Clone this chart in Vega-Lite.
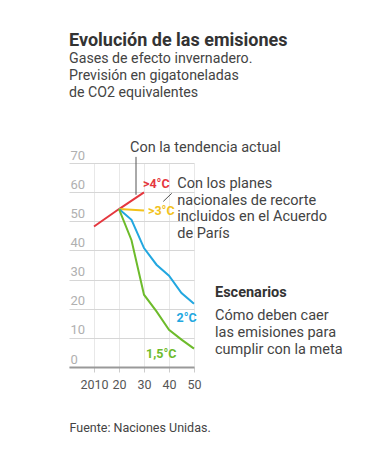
{
  "$schema": "https://vega.github.io/schema/vega-lite/v6.json",
  "width": 125,
  "height": 204,
  "autosize": {"type": "none"},
  "padding": {"left": 69, "top": 163, "right": 188, "bottom": 84},
  "background": "white",
  "title": {
    "text": "Evolución de las emisiones",
    "subtitle": ["Gases de efecto invernadero.", "Previsión en gigatoneladas", "de CO2 equivalentes"],
    "anchor": "start",
    "frame": "group",
    "font": "Roboto",
    "fontSize": 18,
    "fontWeight": "bold",
    "color": "#333333",
    "subtitleFont": "Roboto",
    "subtitleFontSize": 14.2,
    "subtitleColor": "#444444",
    "subtitleLineHeight": 17,
    "subtitlePadding": 2,
    "offset": 40
  },
  "datasets": {
    "lines": [
      {"year": 2010, "value": 48.2, "series": ">4°C"},
      {"year": 2020, "value": 54.2, "series": ">4°C"},
      {"year": 2030, "value": 59.9, "series": ">4°C"},
      {"year": 2020, "value": 54.2, "series": ">3°C"},
      {"year": 2030, "value": 53.7, "series": ">3°C"},
      {"year": 2020, "value": 54.2, "series": "2°C"},
      {"year": 2025, "value": 50.5, "series": "2°C"},
      {"year": 2030, "value": 40.8, "series": "2°C"},
      {"year": 2035, "value": 35.1, "series": "2°C"},
      {"year": 2040, "value": 31.3, "series": "2°C"},
      {"year": 2045, "value": 25.4, "series": "2°C"},
      {"year": 2050, "value": 21.7, "series": "2°C"},
      {"year": 2020, "value": 54.2, "series": "1,5°C"},
      {"year": 2025, "value": 43.5, "series": "1,5°C"},
      {"year": 2030, "value": 24.8, "series": "1,5°C"},
      {"year": 2035, "value": 19.1, "series": "1,5°C"},
      {"year": 2040, "value": 12.8, "series": "1,5°C"},
      {"year": 2045, "value": 9.4, "series": "1,5°C"},
      {"year": 2050, "value": 6.3, "series": "1,5°C"}
    ],
    "seriesLabels": [
      {"year": 2029.6, "value": 62.7, "series": ">4°C"},
      {"year": 2031.6, "value": 53.7, "series": ">3°C"},
      {"year": 2043.0, "value": 16.8, "series": "2°C"},
      {"year": 2030.8, "value": 4.6, "series": "1,5°C"}
    ],
    "notes": [
      {"year": 2024.4, "value": 75.2, "text": "Con la tendencia actual"},
      {"year": 2043.3, "value": 62.7, "text": "Con los planes"},
      {"year": 2043.3, "value": 57.0, "text": "nacionales de recorte"},
      {"year": 2043.3, "value": 51.3, "text": "incluidos en el Acuerdo"},
      {"year": 2043.3, "value": 45.6, "text": "de París"},
      {"year": 2058.4, "value": 17.4, "text": "Cómo deben caer"},
      {"year": 2058.4, "value": 11.7, "text": "las emisiones para"},
      {"year": 2058.4, "value": 6.0, "text": "cumplir con la meta"}
    ],
    "heads": [
      {"year": 2058.4, "value": 25.4, "text": "Escenarios"}
    ],
    "leaders": [
      {"year": 2026.8, "value": 72.1, "year2": 2026.8, "value2": 59.1},
      {"year": 2037.7, "value": 56.8, "year2": 2041.1, "value2": 59.6}
    ]
  },
  "encoding": {
    "x": {
      "field": "year", "type": "quantitative",
      "scale": {"domain": [2000, 2050], "nice": false, "zero": false},
      "axis": {
        "values": [2010, 2020, 2030, 2040, 2050],
        "tickCount": 10,
        "format": "d",
        "labelExpr": "datum.value == 2010 ? '2010' : substring(datum.label, 2)",
        "title": "Fuente: Naciones Unidas.",
        "titleAnchor": "start",
        "titleAlign": "left",
        "titleFont": "Roboto",
        "titleFontSize": 12.5,
        "titleFontWeight": "normal",
        "titleColor": "#444444",
        "titlePadding": 31,
        "labelFont": "Roboto",
        "labelFontSize": 12.5,
        "labelColor": "#555555",
        "labelPadding": 6,
        "labelFlush": false,
        "labelOverlap": false,
        "labelBound": false,
        "domainColor": "#999999",
        "domainWidth": 2,
        "tickColor": "#cccccc",
        "tickSize": 5,
        "grid": true,
        "gridColor": "#e8e8e8",
        "gridOpacity": 1,
        "gridWidth": 1
      }
    },
    "y": {
      "field": "value", "type": "quantitative",
      "scale": {"domain": [0, 70], "nice": false},
      "axis": {
        "values": [0, 10, 20, 30, 40, 50, 60, 70],
        "tickCount": 10,
        "title": null,
        "domain": false,
        "ticks": false,
        "tickSize": 0,
        "labelOverlap": false,
        "labelBound": false,
        "labelFlush": false,
        "labelAlign": "left",
        "labelBaseline": "alphabetic",
        "labelOffset": -4,
        "labelPadding": -1,
        "labelFont": "Roboto",
        "labelFontSize": 13,
        "labelColor": "#b0b0b0",
        "grid": true,
        "gridColor": "#d6d6d6",
        "gridOpacity": 1,
        "gridWidth": 1
      }
    }
  },
  "layer": [
    {
      "data": {"name": "lines"},
      "mark": {"type": "line", "strokeWidth": 2},
      "encoding": {
        "color": {
          "field": "series", "type": "nominal",
          "scale": {"domain": [">4°C", ">3°C", "2°C", "1,5°C"], "range": ["#e5373e", "#f2c21b", "#22a7e0", "#6dbb2b"]},
          "legend": null
        },
        "detail": {"field": "series"}
      }
    },
    {
      "data": {"name": "leaders"},
      "mark": {"type": "rule", "color": "#555555", "strokeWidth": 1},
      "encoding": {
        "x2": {"field": "year2"},
        "y2": {"field": "value2"}
      }
    },
    {
      "data": {"name": "seriesLabels"},
      "mark": {"type": "text", "align": "left", "baseline": "middle", "font": "Roboto", "fontWeight": "bold", "fontSize": 12.5},
      "encoding": {
        "text": {"field": "series"},
        "color": {"field": "series", "type": "nominal", "legend": null}
      }
    },
    {
      "data": {"name": "notes"},
      "mark": {"type": "text", "align": "left", "baseline": "middle", "font": "Roboto", "fontSize": 14.5, "color": "#444444"},
      "encoding": {
        "text": {"field": "text"}
      }
    },
    {
      "data": {"name": "heads"},
      "mark": {"type": "text", "align": "left", "baseline": "middle", "font": "Roboto", "fontSize": 14.5, "fontWeight": "bold", "color": "#333333"},
      "encoding": {
        "text": {"field": "text"}
      }
    }
  ],
  "config": {"view": {"stroke": null}}
}
